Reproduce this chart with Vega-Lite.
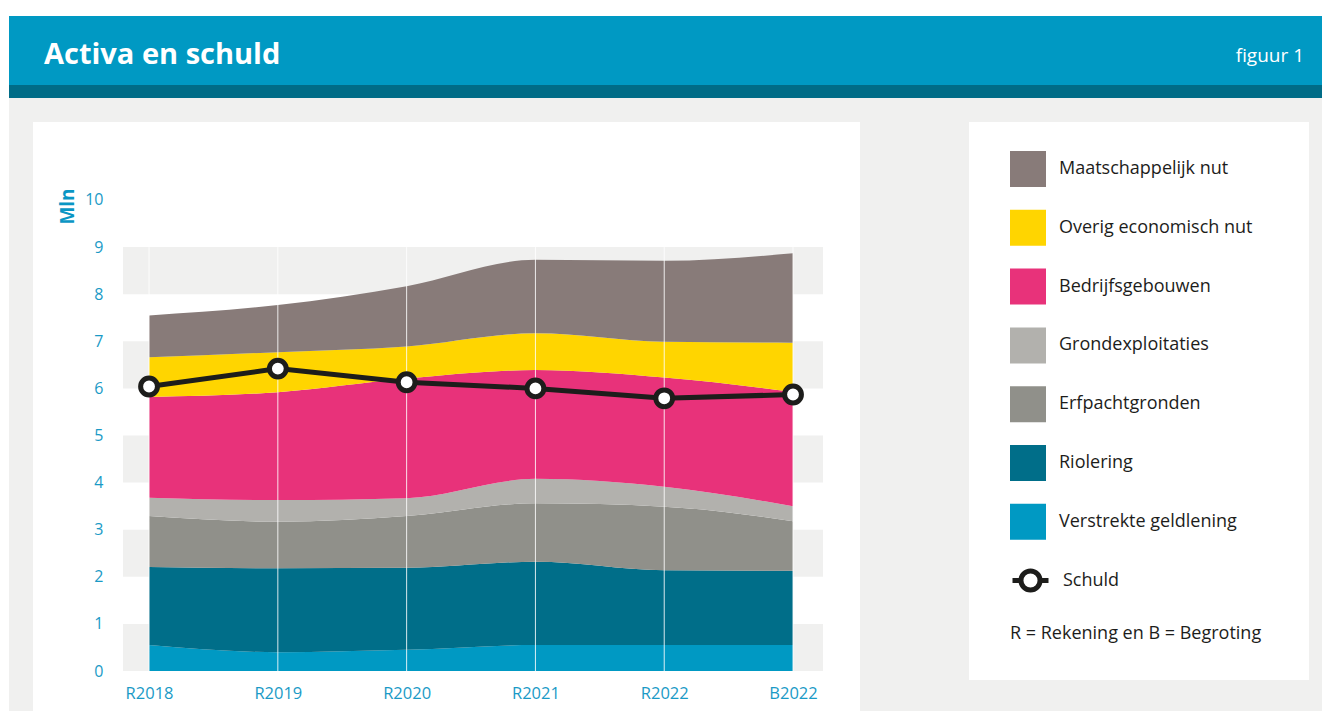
{
  "$schema": "https://vega.github.io/schema/vega-lite/v6.json",
  "background": "#f0f0ef",
  "padding": 0,
  "autosize": {"type": "pad"},
  "config": {
    "view": {"stroke": null},
    "font": "Open Sans",
    "title": {"font": "Open Sans"}
  },
  "datasets": {
    "leeg": [],
    "banden": [
      {"van": 0, "tot": 1}, {"van": 2, "tot": 3}, {"van": 4, "tot": 5}, {"van": 6, "tot": 7}, {"van": 8, "tot": 9}
    ],
    "schuld": [
      {"jaar": "R2018", "schuld": 6.04},
      {"jaar": "R2019", "schuld": 6.42},
      {"jaar": "R2020", "schuld": 6.13},
      {"jaar": "R2021", "schuld": 6.0},
      {"jaar": "R2022", "schuld": 5.79},
      {"jaar": "B2022", "schuld": 5.87}
    ],
    "activa": [
      {"jaar": "R2018", "post": "Verstrekte geldlening", "volg": 1, "waarde": 0.55},
      {"jaar": "R2018", "post": "Riolering", "volg": 2, "waarde": 1.66},
      {"jaar": "R2018", "post": "Erfpachtgronden", "volg": 3, "waarde": 1.08},
      {"jaar": "R2018", "post": "Grondexploitaties", "volg": 4, "waarde": 0.39},
      {"jaar": "R2018", "post": "Bedrijfsgebouwen", "volg": 5, "waarde": 2.14},
      {"jaar": "R2018", "post": "Overig economisch nut", "volg": 6, "waarde": 0.84},
      {"jaar": "R2018", "post": "Maatschappelijk nut", "volg": 7, "waarde": 0.89},
      {"jaar": "R2019", "post": "Verstrekte geldlening", "volg": 1, "waarde": 0.40},
      {"jaar": "R2019", "post": "Riolering", "volg": 2, "waarde": 1.78},
      {"jaar": "R2019", "post": "Erfpachtgronden", "volg": 3, "waarde": 0.99},
      {"jaar": "R2019", "post": "Grondexploitaties", "volg": 4, "waarde": 0.46},
      {"jaar": "R2019", "post": "Bedrijfsgebouwen", "volg": 5, "waarde": 2.29},
      {"jaar": "R2019", "post": "Overig economisch nut", "volg": 6, "waarde": 0.85},
      {"jaar": "R2019", "post": "Maatschappelijk nut", "volg": 7, "waarde": 1.00},
      {"jaar": "R2020", "post": "Verstrekte geldlening", "volg": 1, "waarde": 0.45},
      {"jaar": "R2020", "post": "Riolering", "volg": 2, "waarde": 1.74},
      {"jaar": "R2020", "post": "Erfpachtgronden", "volg": 3, "waarde": 1.10},
      {"jaar": "R2020", "post": "Grondexploitaties", "volg": 4, "waarde": 0.38},
      {"jaar": "R2020", "post": "Bedrijfsgebouwen", "volg": 5, "waarde": 2.54},
      {"jaar": "R2020", "post": "Overig economisch nut", "volg": 6, "waarde": 0.68},
      {"jaar": "R2020", "post": "Maatschappelijk nut", "volg": 7, "waarde": 1.28},
      {"jaar": "R2021", "post": "Verstrekte geldlening", "volg": 1, "waarde": 0.55},
      {"jaar": "R2021", "post": "Riolering", "volg": 2, "waarde": 1.77},
      {"jaar": "R2021", "post": "Erfpachtgronden", "volg": 3, "waarde": 1.24},
      {"jaar": "R2021", "post": "Grondexploitaties", "volg": 4, "waarde": 0.52},
      {"jaar": "R2021", "post": "Bedrijfsgebouwen", "volg": 5, "waarde": 2.31},
      {"jaar": "R2021", "post": "Overig economisch nut", "volg": 6, "waarde": 0.78},
      {"jaar": "R2021", "post": "Maatschappelijk nut", "volg": 7, "waarde": 1.56},
      {"jaar": "R2022", "post": "Verstrekte geldlening", "volg": 1, "waarde": 0.55},
      {"jaar": "R2022", "post": "Riolering", "volg": 2, "waarde": 1.59},
      {"jaar": "R2022", "post": "Erfpachtgronden", "volg": 3, "waarde": 1.35},
      {"jaar": "R2022", "post": "Grondexploitaties", "volg": 4, "waarde": 0.42},
      {"jaar": "R2022", "post": "Bedrijfsgebouwen", "volg": 5, "waarde": 2.32},
      {"jaar": "R2022", "post": "Overig economisch nut", "volg": 6, "waarde": 0.76},
      {"jaar": "R2022", "post": "Maatschappelijk nut", "volg": 7, "waarde": 1.72},
      {"jaar": "B2022", "post": "Verstrekte geldlening", "volg": 1, "waarde": 0.55},
      {"jaar": "B2022", "post": "Riolering", "volg": 2, "waarde": 1.58},
      {"jaar": "B2022", "post": "Erfpachtgronden", "volg": 3, "waarde": 1.05},
      {"jaar": "B2022", "post": "Grondexploitaties", "volg": 4, "waarde": 0.32},
      {"jaar": "B2022", "post": "Bedrijfsgebouwen", "volg": 5, "waarde": 2.43},
      {"jaar": "B2022", "post": "Overig economisch nut", "volg": 6, "waarde": 1.04},
      {"jaar": "B2022", "post": "Maatschappelijk nut", "volg": 7, "waarde": 1.90}
    ]
  },
  "hconcat": [
    {"width": 9, "height": 711, "view": {"fill": "white", "stroke": null}, "data": {"name": "leeg"}, "mark": "point", "encoding": {}},
    {
      "vconcat": [
        {"width": 1313, "height": 16, "view": {"fill": "white", "stroke": null}, "data": {"name": "leeg"}, "mark": "point", "encoding": {}},
        {"width": 1313, "height": 69, "view": {"fill": "#0099c3", "stroke": null}, "data": {"name": "leeg"}, "mark": "point", "encoding": {},
         "title": {"text": "Activa en schuld", "orient": "top", "anchor": "start", "frame": "group", "offset": -68, "dx": 35, "baseline": "middle", "fontSize": 29, "fontWeight": "bold", "color": "white", "font": "Open Sans"}},
        {"width": 1313, "height": 13, "view": {"fill": "#006c87", "stroke": null}, "data": {"name": "leeg"}, "mark": "point", "encoding": {},
         "title": {"text": "figuur 1", "orient": "top", "anchor": "end", "frame": "group", "offset": 10, "dx": -18, "baseline": "middle", "fontSize": 19, "fontWeight": "normal", "color": "white", "font": "Open Sans"}},
        {"width": 1313, "height": 24, "data": {"name": "leeg"}, "mark": "point", "encoding": {}},
        {
          "hconcat": [
            {"width": 24, "height": 10, "data": {"name": "leeg"}, "mark": "point", "encoding": {}},
            {
              "width": 827,
              "height": 589,
              "view": {"fill": "white", "stroke": null},
              "layer": [
                {
                  "data": {"name": "banden"},
                  "mark": {"type": "rect", "color": "#f0f0ef", "xOffset": -26, "x2Offset": 30},
                  "encoding": {
                    "x": {"datum": "R2018", "type": "ordinal",
                      "scale": {"type": "point", "domain": ["R2018", "R2019", "R2020", "R2021", "R2022", "B2022"], "padding": 0.7105, "align": 0.634},
                      "axis": {"title": null, "orient": "bottom", "offset": -40, "domain": false, "ticks": false, "tickSize": 0, "grid": false, "labelPadding": 14, "labelColor": "#1a9ac6", "labelFontSize": 16.5, "labelFont": "Open Sans", "labelAngle": 0}},
                    "x2": {"datum": "B2022"},
                    "y": {"field": "van", "type": "quantitative",
                      "scale": {"domain": [-0.849, 11.656], "nice": false, "zero": false},
                      "axis": {"title": "Mln", "values": [0, 1, 2, 3, 4, 5, 6, 7, 8, 9, 10], "offset": -90, "domain": false, "ticks": false, "tickSize": 0, "grid": false, "labelPadding": 20, "labelColor": "#1a9ac6", "labelFontSize": 16, "labelFont": "Open Sans",
                        "titleColor": "#0a96c4", "titleFontSize": 19, "titleFontWeight": "bold", "titleFont": "Open Sans", "titleAngle": 270, "titleX": -56, "titleY": 84, "titleAlign": "center", "titleBaseline": "middle"}},
                    "y2": {"field": "tot"}
                  }
                },
                {
                  "data": {"name": "activa"},
                  "mark": {"type": "area", "interpolate": "monotone", "opacity": 1},
                  "encoding": {
                    "x": {"field": "jaar", "type": "ordinal", "title": null},
                    "y": {"field": "waarde", "type": "quantitative", "stack": "zero", "title": "Mln"},
                    "fill": {"field": "post", "type": "nominal", "title": null,
                      "scale": {"domain": ["Maatschappelijk nut", "Overig economisch nut", "Bedrijfsgebouwen", "Grondexploitaties", "Erfpachtgronden", "Riolering", "Verstrekte geldlening"],
                                "range": ["#887b79", "#ffd500", "#e8327a", "#b2b1ad", "#90908a", "#006e89", "#0099c3"]},
                      "legend": {"orient": "none", "legendX": 1010, "legendY": 151, "title": null, "symbolType": "square", "symbolSize": 1296, "symbolStrokeWidth": 0, "symbolOpacity": 1,
                        "labelFontSize": 18, "labelFont": "Open Sans", "labelColor": "#1d1d1b", "labelOffset": 13, "rowPadding": 22.8, "labelLimit": 320, "padding": 0}},
                    "order": {"field": "volg", "type": "quantitative", "sort": "ascending"}
                  }
                },
                {
                  "data": {"name": "schuld"},
                  "mark": {"type": "rule", "color": "white", "strokeWidth": 1, "opacity": 0.85},
                  "encoding": {
                    "x": {"field": "jaar", "type": "ordinal", "title": null},
                    "y": {"datum": 0, "type": "quantitative"},
                    "y2": {"datum": 9}
                  }
                },
                {
                  "data": {"name": "schuld"},
                  "mark": {"type": "line", "strokeWidth": 5},
                  "encoding": {
                    "x": {"field": "jaar", "type": "ordinal", "title": null},
                    "y": {"field": "schuld", "type": "quantitative", "title": "Mln"},
                    "stroke": {"datum": "Schuld", "type": "nominal",
                      "scale": {"domain": ["Schuld"], "range": ["#1d1d1b"]},
                      "legend": {"orient": "none", "legendX": 1010, "legendY": 560, "title": "R = Rekening en B = Begroting", "titleOrient": "bottom", "titlePadding": 25, "titleFontSize": 18, "titleFontWeight": "normal", "titleFont": "Open Sans", "titleColor": "#1d1d1b", "titleLimit": 400, "titleAnchor": "start",
                        "symbolType": "M-1,0L-0.53,0M0.53,0L1,0M-0.53,0A0.53,0.53,0,1,0,0.53,0A0.53,0.53,0,1,0,-0.53,0Z", "symbolSize": 1296, "symbolStrokeWidth": 5, "symbolFillColor": "white", "symbolStrokeColor": "#1d1d1b",
                        "labelFontSize": 18, "labelFont": "Open Sans", "labelColor": "#1d1d1b", "labelOffset": 12, "labelLimit": 320, "padding": 0,
                        "encode": {"symbols": {"update": {"fill": {"value": "white"}, "stroke": {"value": "#1d1d1b"}, "strokeWidth": {"value": 5}}}}}}
                  }
                },
                {
                  "data": {"name": "schuld"},
                  "mark": {"type": "point", "shape": "circle", "filled": true, "fill": "white", "stroke": "#1d1d1b", "strokeWidth": 5, "size": 283, "opacity": 1},
                  "encoding": {
                    "x": {"field": "jaar", "type": "ordinal", "title": null},
                    "y": {"field": "schuld", "type": "quantitative", "title": "Mln"}
                  }
                }
              ]
            },
            {"width": 109, "height": 10, "data": {"name": "leeg"}, "mark": "point", "encoding": {}},
            {"width": 340, "height": 558, "view": {"fill": "white", "stroke": null}, "data": {"name": "leeg"}, "mark": "point", "encoding": {}}
          ],
          "spacing": 0,
          "bounds": "flush"
        }
      ],
      "spacing": 0,
      "bounds": "flush"
    }
  ],
  "spacing": 0,
  "bounds": "flush"
}
